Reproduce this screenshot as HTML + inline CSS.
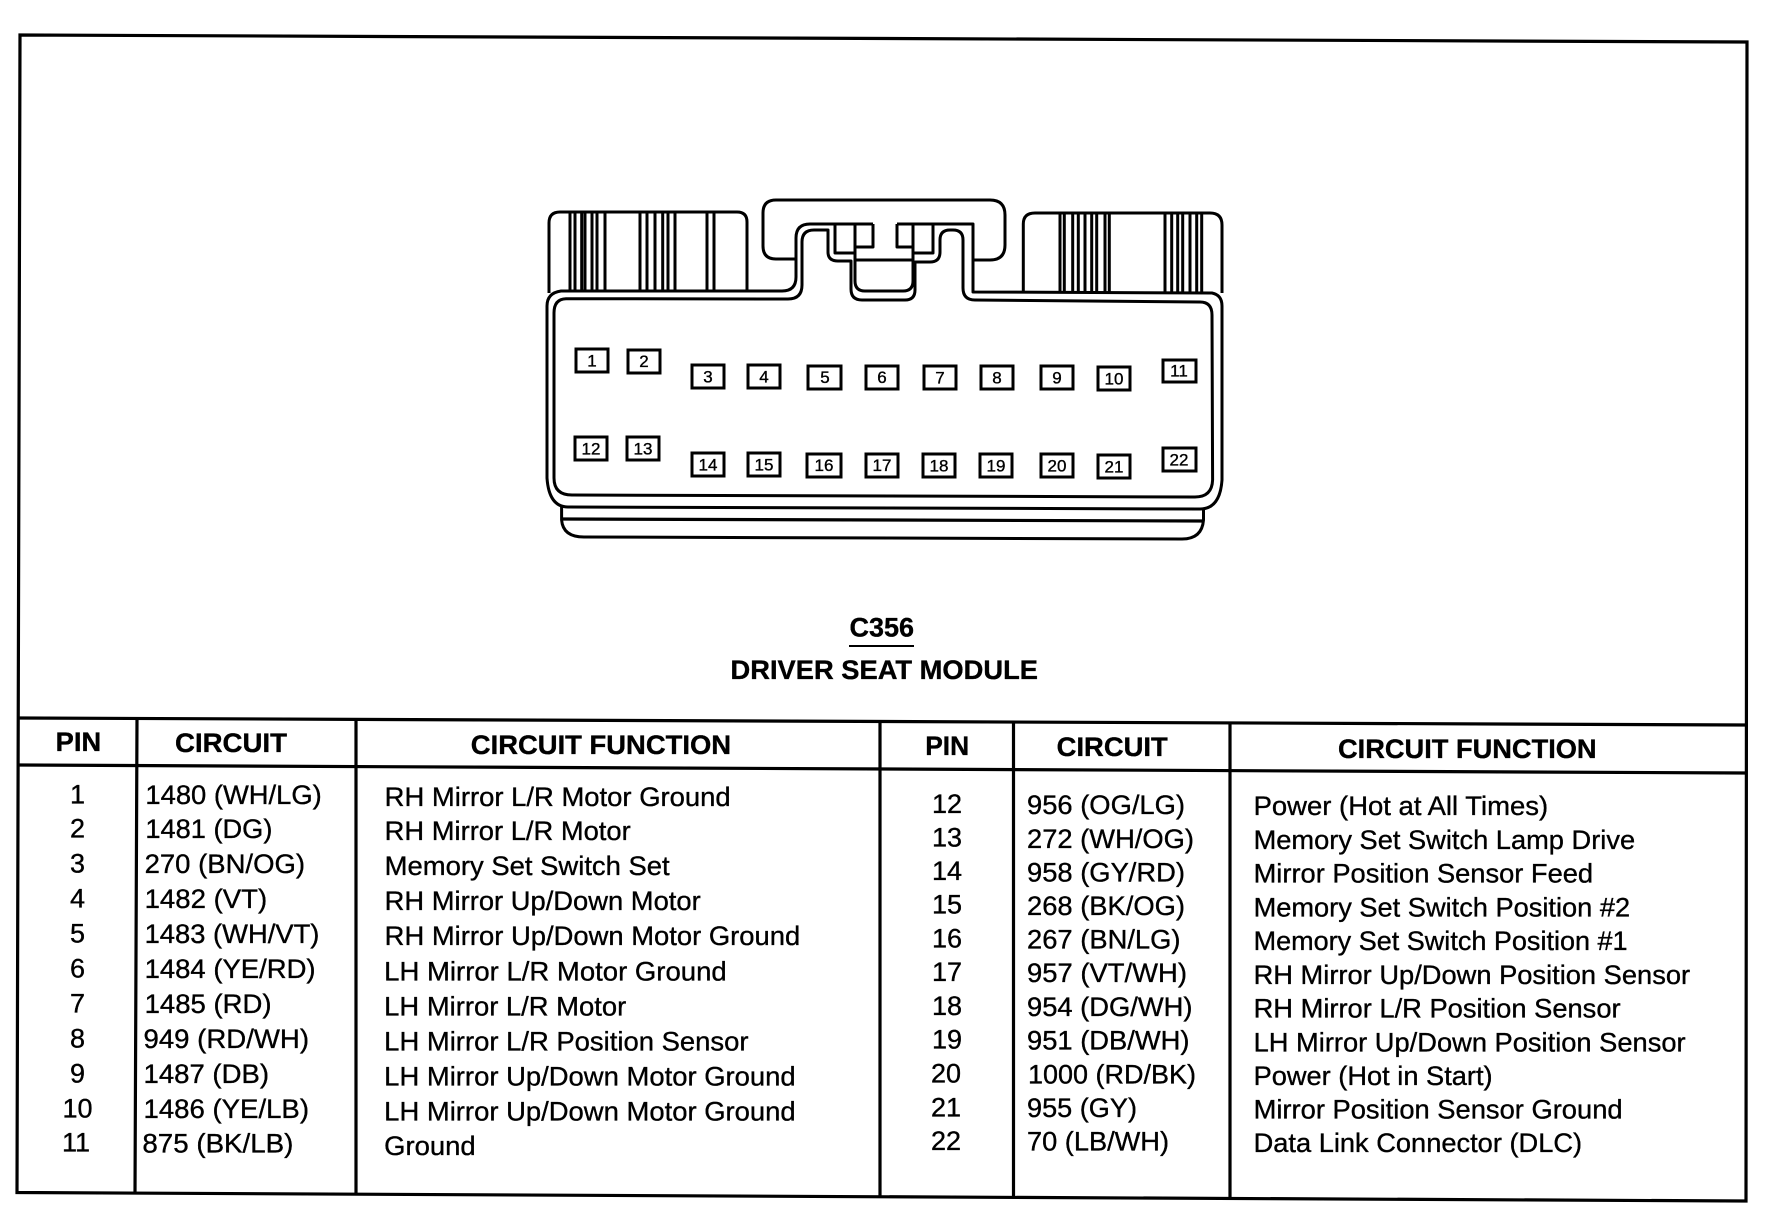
<!DOCTYPE html>
<html lang="en">
<head>
<meta charset="utf-8">
<title>C356 Driver Seat Module</title>
<style>
html,body{margin:0;padding:0;background:#fff;width:1774px;height:1216px;overflow:hidden}
svg{display:block}
text{font-family:"Liberation Sans",Arial,sans-serif;fill:#000;stroke:#000;stroke-width:.35}
.t{font-size:27px}
.b{font-size:27px;font-weight:bold}
.c{font-size:27px;text-anchor:middle}
.n{font-size:17px;text-anchor:middle}
.l{fill:none;stroke:#000;stroke-width:3;stroke-linejoin:round}
.f{fill:none;stroke:#000;stroke-width:3.2}
.p{fill:#fff;stroke:#000;stroke-width:3}
.s{stroke:#000;stroke-width:3}
</style>
</head>
<body>
<svg width="1774" height="1216" viewBox="0 0 1774 1216" xmlns="http://www.w3.org/2000/svg">
<rect width="1774" height="1216" fill="#fff"/>

<!-- frame -->
<path class="f" d="M20,35 L1747,42 L1746,1201 L17,1192.5 Z"/>
<path class="f" d="M19,718 L1746,725 M19,765 L1746,773"/>
<path class="f" d="M137,718.5 L135,1193 M356,720 V1194 M880,722 V1197 M1013.5,722.5 V1198 M1230,724 V1199"/>

<!-- connector -->
<path class="l" d="M873,224 L810,224 Q796,224 796,238 L796,277 Q796,291 782,291 L561,291 Q547,293 547,306 L547,478 Q549,507 568,507 L1200,509 Q1220,509 1222,480 L1222,306 Q1222,295 1212,293 L973,292 L973,224 L897,224"/>
<path class="l" d="M554,313 Q554,299 566,298.7 L788,299 Q802,299 802,285 L802,242 Q802,230 814,230 L828,230 L828,252 Q828,261 838,261 L851,261 L851,289 Q851,300 862,300 L905,300 Q915,300 915,290 L915,262 L930,262 Q940,262 940,252 L940,240 Q940,230 950,230 L953,230 Q963,230 963,240 L963,288 Q963,300 975,300 L1200,302 Q1212,302 1212,315 L1212.6,480 Q1212,497 1195,497 L572,495 Q554,495 554,478 Z"/>
<path class="l" d="M549,293 L549,223 Q549,212 560,212 L737,212 Q747,212 747,222 L747,291"/>
<path class="l" d="M1023.3,292 L1023.3,224 Q1023.3,213 1035,213 L1210,213 Q1222,213 1222,225 L1222,293"/>
<path class="l" d="M796,259 L776,259 Q763,259 763,246 L763,213 Q763,200 776,200 L990,200 Q1005,200 1005,215 L1005,245 Q1005,260 990,260 L973,260"/>
<path class="l" d="M835,224 V253 H855 M855,224 V253 M855,247 H873 V224 M897,224 V247 H913 M913,224 V253 H933 V224"/>
<path class="l" d="M855,253 V281 Q855,291 865,291 H903 Q913,291 913,281 V253 M855,260 H913"/>
<path class="l" d="M561.6,507 V520 Q563,537 584,537 L1182,539 Q1202,539 1203.5,520 V509"/>
<path class="f" d="M561.6,519 L1203.5,521"/>

<!-- stripes -->
<path class="s" d="M570,212V291M575,212V291M581.7,212V291M585,212V291M592,212V291M597,212V291M605,212V291M640,212V291M647,212V291M655,212V291M662.7,212V291M668,212V291M675,212V291M707,212V291M714,212V291"/>
<path class="s" d="M1060,213V292M1064.3,213V292M1072.7,213V292M1078.3,213V292M1085,213V292M1091.7,213V292M1096.7,213V292M1105,213V292M1109.3,213V292M1165,213V292M1171.7,213V292M1177.7,213V292M1182.7,213V292M1190,213V292M1196.7,213V292M1201.7,213V292"/>

<!-- pins -->
<rect class="p" x="576" y="349" width="32" height="23"/><text class="n" x="592" y="366.5">1</text>
<rect class="p" x="628" y="350" width="32" height="23"/><text class="n" x="644" y="367">2</text>
<rect class="p" x="692" y="365" width="32" height="23"/><text class="n" x="708" y="382.5">3</text>
<rect class="p" x="748" y="365" width="32" height="23"/><text class="n" x="764" y="382.5">4</text>
<rect class="p" x="808" y="366" width="33" height="23"/><text class="n" x="825" y="383">5</text>
<rect class="p" x="866" y="366" width="32" height="23"/><text class="n" x="882" y="383">6</text>
<rect class="p" x="924" y="366" width="32" height="23"/><text class="n" x="940" y="383.5">7</text>
<rect class="p" x="981" y="366" width="32" height="23"/><text class="n" x="997" y="383.5">8</text>
<rect class="p" x="1041" y="366" width="32" height="23"/><text class="n" x="1057" y="383.5">9</text>
<rect class="p" x="1098" y="367" width="32" height="23"/><text class="n" x="1114" y="384.5">10</text>
<rect class="p" x="1163" y="360" width="33" height="22"/><text class="n" x="1179" y="376.5">11</text>
<rect class="p" x="575" y="437" width="32" height="23"/><text class="n" x="591" y="454.5">12</text>
<rect class="p" x="627" y="437" width="32" height="23"/><text class="n" x="643" y="454.5">13</text>
<rect class="p" x="692" y="453" width="32" height="23"/><text class="n" x="708" y="470.5">14</text>
<rect class="p" x="748" y="453" width="32" height="23"/><text class="n" x="764" y="470.5">15</text>
<rect class="p" x="807" y="454" width="34" height="23"/><text class="n" x="824" y="471">16</text>
<rect class="p" x="866" y="454" width="32" height="23"/><text class="n" x="882" y="471">17</text>
<rect class="p" x="923" y="454" width="32" height="23"/><text class="n" x="939" y="471.5">18</text>
<rect class="p" x="980" y="454" width="32" height="23"/><text class="n" x="996" y="471.5">19</text>
<rect class="p" x="1041" y="454" width="32" height="23"/><text class="n" x="1057" y="471.5">20</text>
<rect class="p" x="1098" y="455" width="32" height="23"/><text class="n" x="1114" y="472.5">21</text>
<rect class="p" x="1163" y="448" width="33" height="23"/><text class="n" x="1179" y="465.5">22</text>

<!-- title -->
<text class="b" x="849.5" y="636.7" textLength="64.5" lengthAdjust="spacingAndGlyphs">C356</text>
<path d="M849,646 H914" stroke="#000" stroke-width="2"/>
<text class="b" x="730.5" y="679" textLength="307.5" lengthAdjust="spacingAndGlyphs">DRIVER SEAT MODULE</text>

<!-- headers -->
<text class="b" x="55.7" y="751" textLength="45.5" lengthAdjust="spacingAndGlyphs">PIN</text>
<text class="b" x="175" y="752" textLength="112" lengthAdjust="spacingAndGlyphs">CIRCUIT</text>
<text class="b" x="470.8" y="754" textLength="260.3" lengthAdjust="spacingAndGlyphs">CIRCUIT FUNCTION</text>
<text class="b" x="925.2" y="755" textLength="44" lengthAdjust="spacingAndGlyphs">PIN</text>
<text class="b" x="1056.7" y="756" textLength="111" lengthAdjust="spacingAndGlyphs">CIRCUIT</text>
<text class="b" x="1338" y="758" textLength="258.6" lengthAdjust="spacingAndGlyphs">CIRCUIT FUNCTION</text>

<!-- left pins -->
<text class="c" x="77.5" y="803.3">1</text>
<text class="c" x="77.5" y="837.7">2</text>
<text class="c" x="77.5" y="872.7">3</text>
<text class="c" x="77.5" y="907.3">4</text>
<text class="c" x="77.5" y="942.7">5</text>
<text class="c" x="77.5" y="977.7">6</text>
<text class="c" x="77.5" y="1012.7">7</text>
<text class="c" x="77.5" y="1047.7">8</text>
<text class="c" x="77.5" y="1082.3">9</text>
<text class="c" x="77.5" y="1117.3">10</text>
<text class="c" x="76" y="1151.7">11</text>

<!-- left circuits -->
<text class="t" x="145.4" y="804" textLength="176.4" lengthAdjust="spacingAndGlyphs">1480 (WH/LG)</text>
<text class="t" x="145.4" y="838" textLength="127" lengthAdjust="spacingAndGlyphs">1481 (DG)</text>
<text class="t" x="144.6" y="873" textLength="160.4" lengthAdjust="spacingAndGlyphs">270 (BN/OG)</text>
<text class="t" x="144.6" y="908" textLength="122.6" lengthAdjust="spacingAndGlyphs">1482 (VT)</text>
<text class="t" x="144.6" y="943" textLength="174.8" lengthAdjust="spacingAndGlyphs">1483 (WH/VT)</text>
<text class="t" x="144.6" y="978" textLength="171" lengthAdjust="spacingAndGlyphs">1484 (YE/RD)</text>
<text class="t" x="144.6" y="1013" textLength="127" lengthAdjust="spacingAndGlyphs">1485 (RD)</text>
<text class="t" x="143.5" y="1048" textLength="165.5" lengthAdjust="spacingAndGlyphs">949 (RD/WH)</text>
<text class="t" x="143.5" y="1083" textLength="125.5" lengthAdjust="spacingAndGlyphs">1487 (DB)</text>
<text class="t" x="143.5" y="1118" textLength="165.5" lengthAdjust="spacingAndGlyphs">1486 (YE/LB)</text>
<text class="t" x="142.4" y="1152.7" textLength="151" lengthAdjust="spacingAndGlyphs">875 (BK/LB)</text>

<!-- left functions -->
<text class="t" x="384.7" y="806" textLength="346" lengthAdjust="spacingAndGlyphs">RH Mirror L/R Motor Ground</text>
<text class="t" x="384.7" y="840" textLength="246" lengthAdjust="spacingAndGlyphs">RH Mirror L/R Motor</text>
<text class="t" x="384.7" y="875" textLength="285" lengthAdjust="spacingAndGlyphs">Memory Set Switch Set</text>
<text class="t" x="384.7" y="910" textLength="316" lengthAdjust="spacingAndGlyphs">RH Mirror Up/Down Motor</text>
<text class="t" x="384.7" y="945" textLength="415.5" lengthAdjust="spacingAndGlyphs">RH Mirror Up/Down Motor Ground</text>
<text class="t" x="384.2" y="980.7" textLength="342.5" lengthAdjust="spacingAndGlyphs">LH Mirror L/R Motor Ground</text>
<text class="t" x="384.2" y="1015.7" textLength="242" lengthAdjust="spacingAndGlyphs">LH Mirror L/R Motor</text>
<text class="t" x="384.2" y="1050.7" textLength="364.3" lengthAdjust="spacingAndGlyphs">LH Mirror L/R Position Sensor</text>
<text class="t" x="384.2" y="1085.5" textLength="411.5" lengthAdjust="spacingAndGlyphs">LH Mirror Up/Down Motor Ground</text>
<text class="t" x="384.2" y="1120.5" textLength="411.5" lengthAdjust="spacingAndGlyphs">LH Mirror Up/Down Motor Ground</text>
<text class="t" x="384.2" y="1155" textLength="91.5" lengthAdjust="spacingAndGlyphs">Ground</text>

<!-- right pins -->
<text class="c" x="947" y="813">12</text>
<text class="c" x="947" y="846.7">13</text>
<text class="c" x="947" y="880">14</text>
<text class="c" x="947" y="913.7">15</text>
<text class="c" x="947" y="947.3">16</text>
<text class="c" x="947" y="981">17</text>
<text class="c" x="947" y="1015">18</text>
<text class="c" x="947" y="1048.5">19</text>
<text class="c" x="946" y="1082.5">20</text>
<text class="c" x="946" y="1116.5">21</text>
<text class="c" x="946" y="1150">22</text>

<!-- right circuits -->
<text class="t" x="1027" y="814" textLength="158" lengthAdjust="spacingAndGlyphs">956 (OG/LG)</text>
<text class="t" x="1027" y="848" textLength="167" lengthAdjust="spacingAndGlyphs">272 (WH/OG)</text>
<text class="t" x="1027" y="881.5" textLength="158" lengthAdjust="spacingAndGlyphs">958 (GY/RD)</text>
<text class="t" x="1027" y="915" textLength="158" lengthAdjust="spacingAndGlyphs">268 (BK/OG)</text>
<text class="t" x="1027" y="948.5" textLength="153.5" lengthAdjust="spacingAndGlyphs">267 (BN/LG)</text>
<text class="t" x="1027" y="982" textLength="160" lengthAdjust="spacingAndGlyphs">957 (VT/WH)</text>
<text class="t" x="1027" y="1016" textLength="165.5" lengthAdjust="spacingAndGlyphs">954 (DG/WH)</text>
<text class="t" x="1027" y="1049.7" textLength="162.5" lengthAdjust="spacingAndGlyphs">951 (DB/WH)</text>
<text class="t" x="1028" y="1083.5" textLength="168" lengthAdjust="spacingAndGlyphs">1000 (RD/BK)</text>
<text class="t" x="1027" y="1117" textLength="110" lengthAdjust="spacingAndGlyphs">955 (GY)</text>
<text class="t" x="1027" y="1150.7" textLength="142" lengthAdjust="spacingAndGlyphs">70 (LB/WH)</text>

<!-- right functions -->
<text class="t" x="1253.6" y="815" textLength="294.5" lengthAdjust="spacingAndGlyphs">Power (Hot at All Times)</text>
<text class="t" x="1253.6" y="849" textLength="381.5" lengthAdjust="spacingAndGlyphs">Memory Set Switch Lamp Drive</text>
<text class="t" x="1253.6" y="882.5" textLength="339.5" lengthAdjust="spacingAndGlyphs">Mirror Position Sensor Feed</text>
<text class="t" x="1253.6" y="916.3" textLength="376.5" lengthAdjust="spacingAndGlyphs">Memory Set Switch Position #2</text>
<text class="t" x="1253.6" y="950" textLength="374" lengthAdjust="spacingAndGlyphs">Memory Set Switch Position #1</text>
<text class="t" x="1253.6" y="983.8" textLength="436.5" lengthAdjust="spacingAndGlyphs">RH Mirror Up/Down Position Sensor</text>
<text class="t" x="1253.6" y="1017.5" textLength="367" lengthAdjust="spacingAndGlyphs">RH Mirror L/R Position Sensor</text>
<text class="t" x="1253.6" y="1051.5" textLength="432" lengthAdjust="spacingAndGlyphs">LH Mirror Up/Down Position Sensor</text>
<text class="t" x="1253.6" y="1084.8" textLength="239" lengthAdjust="spacingAndGlyphs">Power (Hot in Start)</text>
<text class="t" x="1253.6" y="1118.5" textLength="369" lengthAdjust="spacingAndGlyphs">Mirror Position Sensor Ground</text>
<text class="t" x="1253.6" y="1152" textLength="328.5" lengthAdjust="spacingAndGlyphs">Data Link Connector (DLC)</text>
</svg>
</body>
</html>
